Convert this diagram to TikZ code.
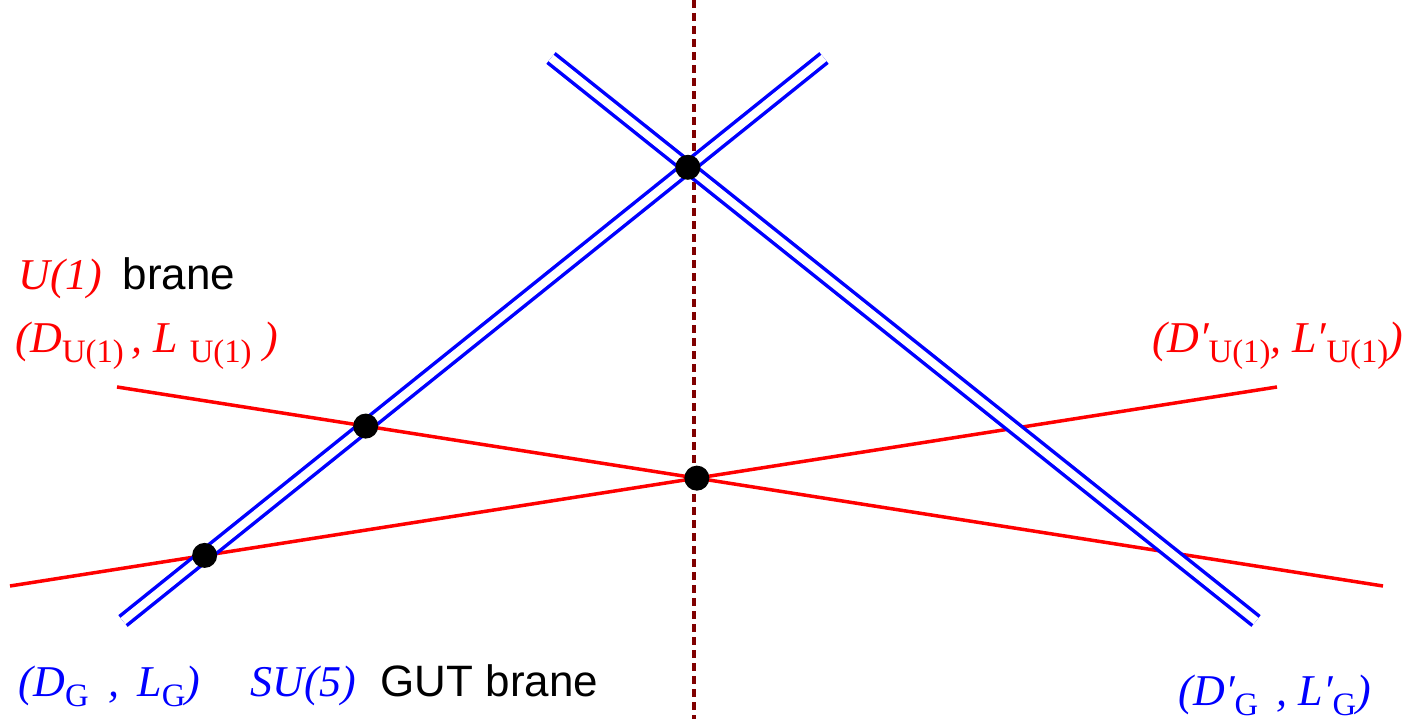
\documentclass[tikz,border=0pt]{standalone}
\usepackage{fontspec}
\setmainfont{Liberation Serif}
\newfontfamily\arialfont{Liberation Sans}
\usepackage{tikz}
\definecolor{branered}{RGB}{255,0,0}
\definecolor{braneblue}{RGB}{0,0,255}
\definecolor{axisred}{RGB}{128,0,0}
\newcommand\sbs[1]{\raisebox{-0.22em}{\fontsize{9.3}{10}\selectfont\upshape #1}}

\begin{document}
\begin{tikzpicture}[x=0.01cm, y=-0.01cm,
  gutbrane/.style={draw=braneblue, line width=0.035cm, double=white, double distance=0.08cm},
  u1brane/.style={draw=branered, line width=0.035cm},
  axis/.style={draw=axisred, line width=0.035cm, dash pattern=on 0.08cm off 0.05cm},
  dot/.style={circle, fill=black, inner sep=0pt, minimum size=0.25cm},
  lbl/.style={anchor=base west, inner sep=0pt, font=\fontsize{12.5}{14}\selectfont}]

\useasboundingbox (0,0) rectangle (1408,719);

% end points of the branes
\coordinate (G1a) at (123,621);
\coordinate (G1b) at (824,58);
\coordinate (G2a) at (551,58);
\coordinate (G2b) at (1256,621);
\coordinate (U1a) at (117,387);
\coordinate (U1b) at (1383,586);
\coordinate (U2a) at (10,586);
\coordinate (U2b) at (1277,387);
\coordinate (axtop) at (694,0);
\coordinate (axbot) at (694,719);

% symmetry axis
\draw[axis] (axtop) -- (axbot);

% U(1) branes
\draw[u1brane] (U1a) -- (U1b);
\draw[u1brane] (U2a) -- (U2b);

% GUT branes
\draw[gutbrane] (G1a) -- (G1b);
\draw[gutbrane] (G2a) -- (G2b);

% crossings
\node[dot] (top) at (intersection of G1a--G1b and G2a--G2b) {};
\node[dot] (mid) at (intersection of G1a--G1b and U1a--U1b) {};
\node[dot] (low) at (intersection of G1a--G1b and U2a--U2b) {};
\node[dot] (ctr) at (intersection of U1a--U1b and U2a--U2b) {};

% labels
\node[lbl, text=branered] (u1) at (18,290) {\itshape U(1)};
\node[lbl] (u1txt) at (122,290) {\arialfont brane};
\node[lbl, text=branered] (dl) at (15,353) {\itshape (D\sbs{U(1)}\,, L\;\sbs{U(1)}\;)};
\node[lbl, text=branered] (dlr) at (1152,353) {\itshape (D′\sbs{U(1)}, L′\sbs{U(1)})};
\node[lbl, text=braneblue] (dg) at (18,697) {\itshape (D\sbs{G}\;\,, \,L\sbs{G})};
\node[lbl, text=braneblue] (su5) at (250,697) {\itshape SU(5)};
\node[lbl] (guttxt) at (380,697) {\arialfont GUT brane};
\node[lbl, text=braneblue] (dgr) at (1178,706) {\itshape (D′\sbs{G}\, , L′\sbs{G})};

\end{tikzpicture}
\end{document}
